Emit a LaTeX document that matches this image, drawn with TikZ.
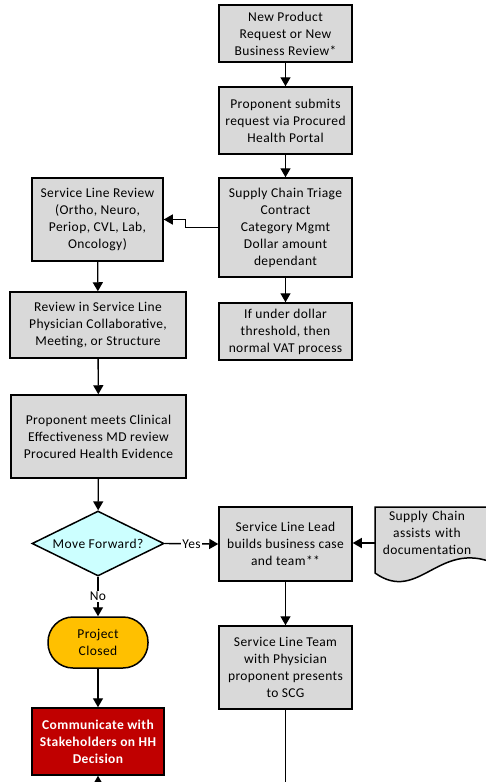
\documentclass[tikz,border=0pt]{standalone}
\usepackage{fontspec}
\setmainfont{Carlito}[LetterSpace=3.0]
\usetikzlibrary{arrows.meta,shapes.geometric}
\definecolor{boxgray}{HTML}{D9D9D9}
\definecolor{decblue}{HTML}{CCFFFF}
\definecolor{closeorange}{HTML}{FFC000}
\definecolor{commred}{HTML}{C00000}

\begin{document}
\begin{tikzpicture}[x=1pt,y=-1pt,>={Triangle[width=10pt,length=9pt]},line width=1.5pt]

        \tikzstyle{txt}=[font=\fontsize{13.5}{17}\selectfont, align=center, inner sep=0pt]
        \tikzstyle{gbox}=[txt, draw, fill=boxgray, minimum width=133pt]
        \tikzstyle{decbox}=[txt, draw, fill=decblue, diamond, aspect=2, minimum width=132pt, minimum height=65pt]
        \tikzstyle{endbox}=[txt, draw, fill=closeorange, rounded corners=25pt, minimum width=100pt, minimum height=51pt]
        \tikzstyle{redbox}=[txt, draw, fill=commred, text=white, font=\fontsize{13.5}{17}\selectfont\bfseries, minimum width=132pt, minimum height=67pt]

        \useasboundingbox (0,0) rectangle (486,782);
        \clip (0,0) rectangle (486,782);

        % right column
        \node (req)  [gbox, minimum height=57pt] at (285.5,33.5)  {New Product\\Request or New\\Business Review*};
        \node (sub)  [gbox, minimum height=67pt] at (285.5,120.5) {Proponent submits\\request via Procured\\Health Portal};
        \node (tri)  [gbox, minimum height=99pt] at (285.5,227.5) {Supply Chain Triage\\Contract\\Category Mgmt\\Dollar amount\\dependant};
        \node (thr)  [gbox, minimum height=57pt] at (285.5,331.5) {If under dollar\\threshold, then\\normal VAT process};
        \node (lead) [gbox, minimum height=74pt] at (285.5,544)   {Service Line Lead\\builds business case\\and team**};
        \node (team) [gbox, minimum height=83pt] at (285.5,667.5) {Service Line Team\\with Physician\\proponent presents\\to SCG};

        % left column
        \node (slr) [gbox, minimum width=131pt, minimum height=83pt] at (97.5,219.5) {Service Line Review\\(Ortho, Neuro,\\Periop, CVL, Lab,\\Oncology)};
        \node (rev) [gbox, minimum width=176pt, minimum height=66pt] at (98,325)     {Review in Service Line\\Physician Collaborative,\\Meeting, or Structure};
        \node (cli) [gbox, minimum width=175pt, minimum height=83pt] at (98.5,436.5) {Proponent meets Clinical\\Effectiveness MD review\\Procured Health Evidence};
        \node (dec) [decbox] at (98,543.5) {Move Forward?};
        \node (clo) [endbox] at (98,642.5) {Project\\Closed};
        \node (com) [redbox] at (98,741.5) {Communicate with\\Stakeholders on HH\\Decision};

        % document shape
        \filldraw[fill=boxgray] (375,507) -- (500,507) -- (500,566) .. controls (440,535) and (420,605) .. (375,573) -- cycle;
        \node (doc) [txt, anchor=north, text width=104pt] at (427,510) {Supply Chain\\assists with\\documentation};
        \coordinate (docin) at (375,543);
        \coordinate (comin) at (98,800);
        \coordinate (teamout) at (285.5,800);

        \begin{scope}[line width=1.4pt]
        \draw[->] (req) -- (sub);
        \draw[->] (sub) -- (tri);
        \draw[->] (tri) -- (thr);
        \draw[->] (tri.west) -- ++(-33,0) |- (slr.east);
        \draw[->] (slr) -- (rev);
        \draw[->] (rev) -- (cli);
        \draw[->] (cli) -- (dec);
        \draw[->] (dec.east) -- node [txt, fill=white, inner sep=1.5pt] {Yes} (lead.west);
        \draw[->] (dec.south) -- node [txt, fill=white, inner sep=1.5pt] {No} (clo.north);
        \draw[->] (clo) -- (com);
        \draw[->] (docin) -- (docin -| lead.east);
        \draw[->] (lead) -- (team);
        \draw[->] (comin) -- (com.south);
        \draw (team.south) -- (teamout);
        \end{scope}
\end{tikzpicture}
\end{document}
